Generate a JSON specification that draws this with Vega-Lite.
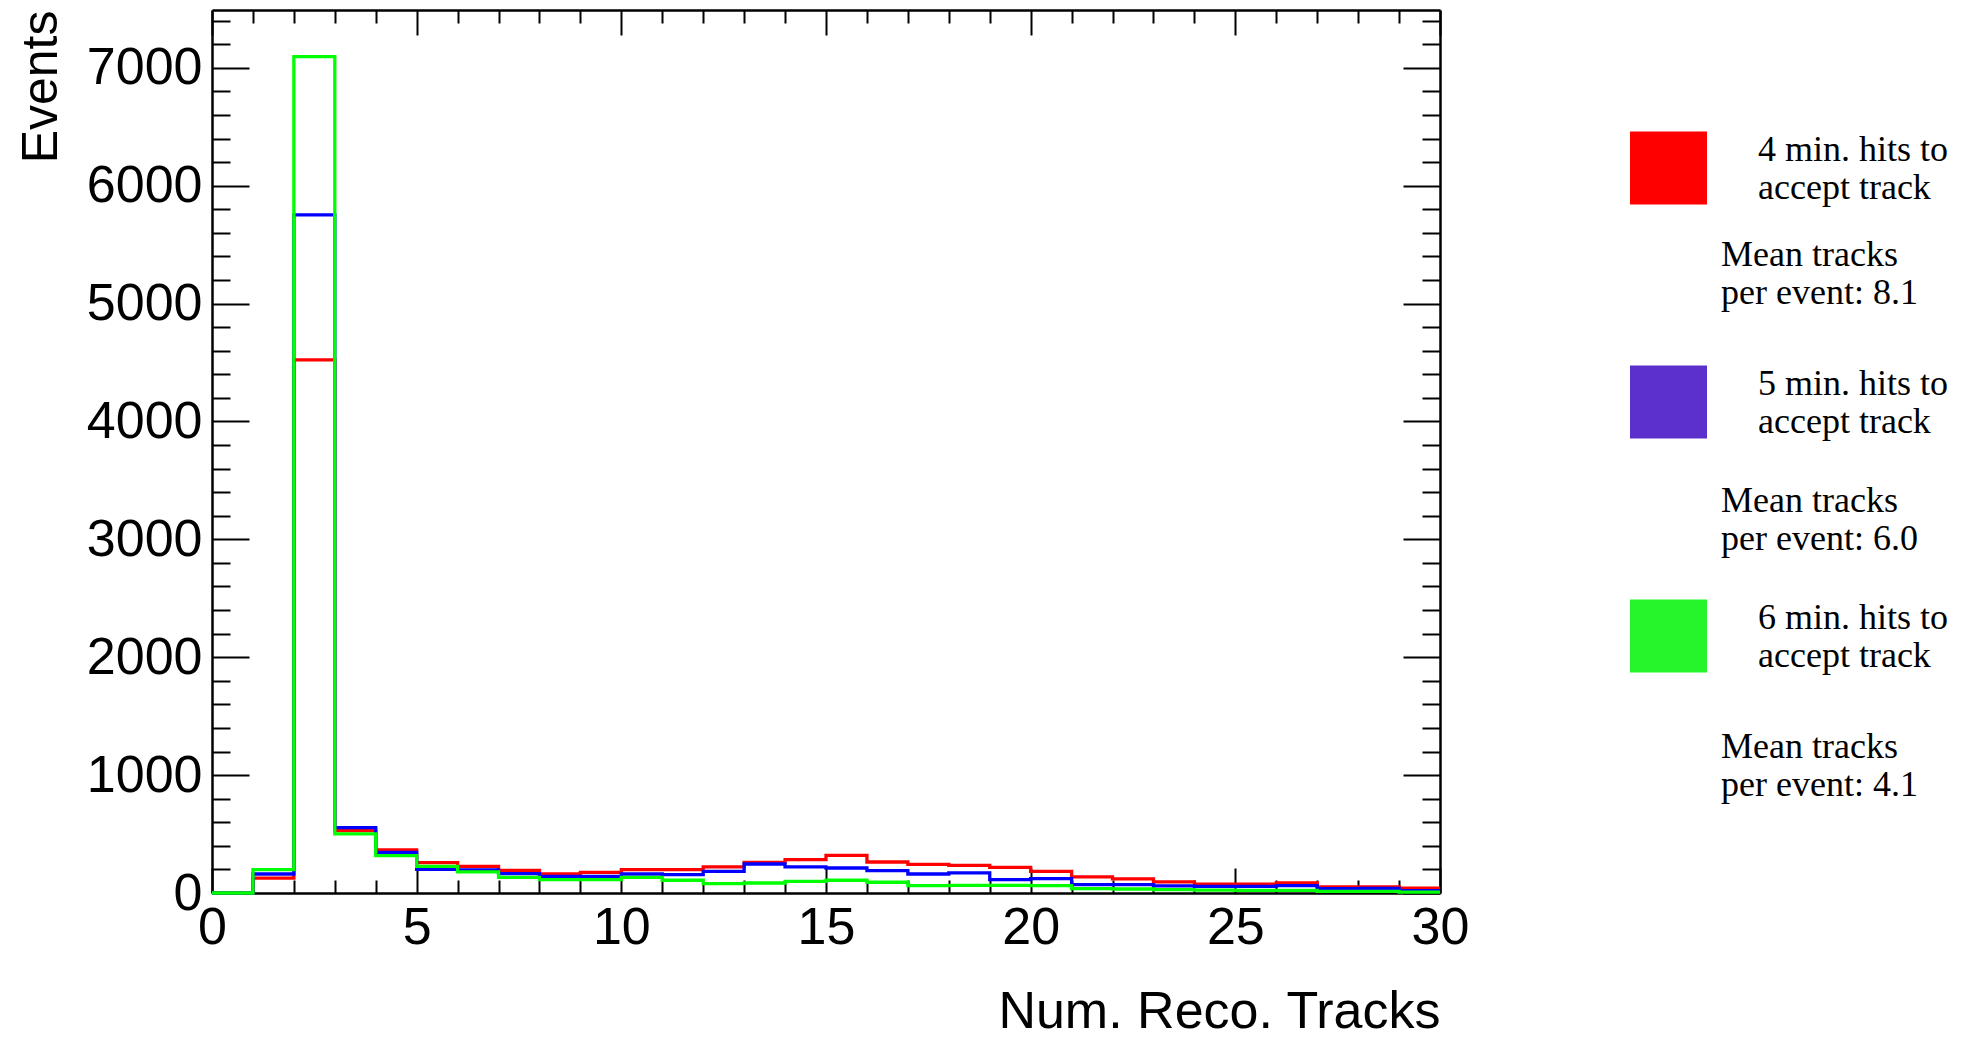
{
  "$schema": "https://vega.github.io/schema/vega-lite/v6.json",
  "width": 1228,
  "height": 883,
  "autosize": {"type": "none"},
  "padding": {"left": 212, "top": 10, "right": 537, "bottom": 151},
  "background": "white",
  "config": {
    "view": {"stroke": null},
    "axis": {
      "grid": false,
      "domainColor": "#000000",
      "domainWidth": 2.5,
      "tickColor": "#000000",
      "tickWidth": 2,
      "labelColor": "#000000",
      "labelFont": "Liberation Sans",
      "labelFontSize": 52,
      "labelOverlap": false,
      "labelFlush": false,
      "titleColor": "#000000",
      "titleFont": "Liberation Sans",
      "titleFontWeight": "normal"
    }
  },
  "data": {
    "values": [
      {"hits": 4, "lo": 0, "hi": 1, "events": 0},
      {"hits": 4, "lo": 1, "hi": 2, "events": 127},
      {"hits": 4, "lo": 2, "hi": 3, "events": 4522},
      {"hits": 4, "lo": 3, "hi": 4, "events": 530},
      {"hits": 4, "lo": 4, "hi": 5, "events": 365},
      {"hits": 4, "lo": 5, "hi": 6, "events": 258},
      {"hits": 4, "lo": 6, "hi": 7, "events": 226},
      {"hits": 4, "lo": 7, "hi": 8, "events": 192},
      {"hits": 4, "lo": 8, "hi": 9, "events": 161},
      {"hits": 4, "lo": 9, "hi": 10, "events": 175},
      {"hits": 4, "lo": 10, "hi": 11, "events": 198},
      {"hits": 4, "lo": 11, "hi": 12, "events": 198},
      {"hits": 4, "lo": 12, "hi": 13, "events": 221},
      {"hits": 4, "lo": 13, "hi": 14, "events": 260},
      {"hits": 4, "lo": 14, "hi": 15, "events": 283},
      {"hits": 4, "lo": 15, "hi": 16, "events": 320},
      {"hits": 4, "lo": 16, "hi": 17, "events": 263},
      {"hits": 4, "lo": 17, "hi": 18, "events": 243},
      {"hits": 4, "lo": 18, "hi": 19, "events": 235},
      {"hits": 4, "lo": 19, "hi": 20, "events": 218},
      {"hits": 4, "lo": 20, "hi": 21, "events": 184},
      {"hits": 4, "lo": 21, "hi": 22, "events": 136},
      {"hits": 4, "lo": 22, "hi": 23, "events": 119},
      {"hits": 4, "lo": 23, "hi": 24, "events": 95},
      {"hits": 4, "lo": 24, "hi": 25, "events": 76},
      {"hits": 4, "lo": 25, "hi": 26, "events": 76},
      {"hits": 4, "lo": 26, "hi": 27, "events": 85},
      {"hits": 4, "lo": 27, "hi": 28, "events": 51},
      {"hits": 4, "lo": 28, "hi": 29, "events": 51},
      {"hits": 4, "lo": 29, "hi": 30, "events": 42},
      {"hits": 5, "lo": 0, "hi": 1, "events": 0},
      {"hits": 5, "lo": 1, "hi": 2, "events": 161},
      {"hits": 5, "lo": 2, "hi": 3, "events": 5753},
      {"hits": 5, "lo": 3, "hi": 4, "events": 555},
      {"hits": 5, "lo": 4, "hi": 5, "events": 345},
      {"hits": 5, "lo": 5, "hi": 6, "events": 200},
      {"hits": 5, "lo": 6, "hi": 7, "events": 195},
      {"hits": 5, "lo": 7, "hi": 8, "events": 164},
      {"hits": 5, "lo": 8, "hi": 9, "events": 141},
      {"hits": 5, "lo": 9, "hi": 10, "events": 141},
      {"hits": 5, "lo": 10, "hi": 11, "events": 161},
      {"hits": 5, "lo": 11, "hi": 12, "events": 156},
      {"hits": 5, "lo": 12, "hi": 13, "events": 184},
      {"hits": 5, "lo": 13, "hi": 14, "events": 246},
      {"hits": 5, "lo": 14, "hi": 15, "events": 221},
      {"hits": 5, "lo": 15, "hi": 16, "events": 212},
      {"hits": 5, "lo": 16, "hi": 17, "events": 190},
      {"hits": 5, "lo": 17, "hi": 18, "events": 161},
      {"hits": 5, "lo": 18, "hi": 19, "events": 170},
      {"hits": 5, "lo": 19, "hi": 20, "events": 113},
      {"hits": 5, "lo": 20, "hi": 21, "events": 122},
      {"hits": 5, "lo": 21, "hi": 22, "events": 71},
      {"hits": 5, "lo": 22, "hi": 23, "events": 71},
      {"hits": 5, "lo": 23, "hi": 24, "events": 60},
      {"hits": 5, "lo": 24, "hi": 25, "events": 57},
      {"hits": 5, "lo": 25, "hi": 26, "events": 57},
      {"hits": 5, "lo": 26, "hi": 27, "events": 62},
      {"hits": 5, "lo": 27, "hi": 28, "events": 37},
      {"hits": 5, "lo": 28, "hi": 29, "events": 40},
      {"hits": 5, "lo": 29, "hi": 30, "events": 20},
      {"hits": 6, "lo": 0, "hi": 1, "events": 0},
      {"hits": 6, "lo": 1, "hi": 2, "events": 198},
      {"hits": 6, "lo": 2, "hi": 3, "events": 7095},
      {"hits": 6, "lo": 3, "hi": 4, "events": 502},
      {"hits": 6, "lo": 4, "hi": 5, "events": 317},
      {"hits": 6, "lo": 5, "hi": 6, "events": 226},
      {"hits": 6, "lo": 6, "hi": 7, "events": 180},
      {"hits": 6, "lo": 7, "hi": 8, "events": 133},
      {"hits": 6, "lo": 8, "hi": 9, "events": 113},
      {"hits": 6, "lo": 9, "hi": 10, "events": 113},
      {"hits": 6, "lo": 10, "hi": 11, "events": 133},
      {"hits": 6, "lo": 11, "hi": 12, "events": 108},
      {"hits": 6, "lo": 12, "hi": 13, "events": 79},
      {"hits": 6, "lo": 13, "hi": 14, "events": 85},
      {"hits": 6, "lo": 14, "hi": 15, "events": 99},
      {"hits": 6, "lo": 15, "hi": 16, "events": 108},
      {"hits": 6, "lo": 16, "hi": 17, "events": 91},
      {"hits": 6, "lo": 17, "hi": 18, "events": 63},
      {"hits": 6, "lo": 18, "hi": 19, "events": 65},
      {"hits": 6, "lo": 19, "hi": 20, "events": 65},
      {"hits": 6, "lo": 20, "hi": 21, "events": 62},
      {"hits": 6, "lo": 21, "hi": 22, "events": 37},
      {"hits": 6, "lo": 22, "hi": 23, "events": 34},
      {"hits": 6, "lo": 23, "hi": 24, "events": 28},
      {"hits": 6, "lo": 24, "hi": 25, "events": 25},
      {"hits": 6, "lo": 25, "hi": 26, "events": 23},
      {"hits": 6, "lo": 26, "hi": 27, "events": 23},
      {"hits": 6, "lo": 27, "hi": 28, "events": 14},
      {"hits": 6, "lo": 28, "hi": 29, "events": 14},
      {"hits": 6, "lo": 29, "hi": 30, "events": 8}
    ]
  },
  "transform": [
    {
      "lookup": "hits",
      "from": {
        "data": {"values": [
          {"hits": 4, "mean": "8.1"},
          {"hits": 5, "mean": "6.0"},
          {"hits": 6, "mean": "4.1"}
        ]},
        "key": "hits",
        "fields": ["mean"]
      }
    },
    {"fold": ["lo", "hi"], "as": ["edge", "x"]}
  ],
  "encoding": {
    "color": {
      "field": "hits",
      "type": "ordinal",
      "scale": {"domain": [4, 5, 6], "range": ["#ff0000", "#0000ff", "#00ff00"]},
      "legend": {
        "orient": "none",
        "legendX": 1420,
        "legendY": 121.5,
        "title": null,
        "padding": 0,
        "symbolType": "M-1.055,-1H1.055V1H-1.055Z",
        "symbolSize": 5329,
        "symbolStrokeWidth": 0,
        "labelFont": "Liberation Serif",
        "labelFontSize": 36,
        "labelColor": "#000000",
        "labelLimit": 0,
        "labelOffset": 53,
        "rowPadding": 159,
        "labelExpr": "[datum.label + ' min. hits to', 'accept track']",
        "encode": {
          "symbols": {
            "update": {
              "fill": {"signal": "datum.value == 4 ? '#ff0000' : datum.value == 5 ? '#5c30cc' : '#27f52b'"},
              "stroke": {"value": "transparent"},
              "opacity": {"value": 1},
              "fillOpacity": {"value": 1}
            }
          },
          "labels": {
            "update": {"dy": {"value": -18}}
          }
        }
      }
    },
    "opacity": {
      "field": "mean",
      "type": "ordinal",
      "scale": {"domain": ["8.1", "6.0", "4.1"], "range": [1, 1]},
      "legend": {
        "orient": "none",
        "legendX": 1473,
        "legendY": 227,
        "title": null,
        "padding": 0,
        "symbolSize": 1,
        "symbolStrokeWidth": 0,
        "labelFont": "Liberation Serif",
        "labelFontSize": 36,
        "labelColor": "#000000",
        "labelLimit": 0,
        "labelOffset": 0,
        "rowPadding": 172,
        "labelExpr": "['Mean tracks', 'per event: ' + datum.label]",
        "encode": {
          "symbols": {
            "update": {
              "opacity": {"value": 0},
              "fill": {"value": "transparent"},
              "stroke": {"value": "transparent"}
            }
          }
        }
      }
    },
    "order": [
      {"field": "lo", "type": "quantitative"},
      {"field": "edge", "type": "nominal", "sort": "descending"}
    ]
  },
  "layer": [
    {
      "transform": [{"filter": "datum.hits === 4"}],
      "mark": {"type": "line", "strokeWidth": 3.3, "strokeJoin": "miter"},
      "encoding": {
        "x": {
          "field": "x",
          "type": "quantitative",
          "scale": {"domain": [0, 30], "nice": false, "zero": false},
          "axis": {
            "orient": "bottom",
            "values": [0, 1, 2, 3, 4, 5, 6, 7, 8, 9, 10, 11, 12, 13, 14, 15, 16, 17, 18, 19, 20, 21, 22, 23, 24, 25, 26, 27, 28, 29, 30],
            "format": "d",
            "tickSize": {"condition": {"test": "datum.value % 5 === 0", "value": -25}, "value": -13},
            "labelExpr": "datum.value % 5 === 0 ? datum.label : ''",
            "labelPadding": 34,
            "title": "Num. Reco. Tracks",
            "titleAnchor": "end",
            "titleFontSize": 52,
            "titlePadding": 21
          }
        },
        "y": {
          "field": "events",
          "type": "quantitative",
          "scale": {"domain": [0, 7490], "nice": false},
          "axis": {
            "orient": "left",
            "values": [0, 200, 400, 600, 800, 1000, 1200, 1400, 1600, 1800, 2000, 2200, 2400, 2600, 2800, 3000, 3200, 3400, 3600, 3800, 4000, 4200, 4400, 4600, 4800, 5000, 5200, 5400, 5600, 5800, 6000, 6200, 6400, 6600, 6800, 7000, 7200, 7400],
            "format": "d",
            "tickSize": {"condition": {"test": "datum.value % 1000 === 0", "value": -37}, "value": -18},
            "labelExpr": "datum.value % 1000 === 0 ? datum.label : ''",
            "labelPadding": 47,
            "title": "Events",
            "titleAnchor": "end",
            "titleFontSize": 50,
            "titlePadding": 20
          }
        }
      }
    },
    {
      "transform": [{"filter": "datum.hits === 5"}],
      "mark": {"type": "line", "strokeWidth": 3.3, "strokeJoin": "miter"},
      "encoding": {
        "x": {
          "field": "x",
          "type": "quantitative",
          "axis": {
            "orient": "top",
            "values": [0, 1, 2, 3, 4, 5, 6, 7, 8, 9, 10, 11, 12, 13, 14, 15, 16, 17, 18, 19, 20, 21, 22, 23, 24, 25, 26, 27, 28, 29, 30],
            "tickSize": {"condition": {"test": "datum.value % 5 === 0", "value": -25}, "value": -13},
            "labels": false,
            "title": null
          }
        },
        "y": {
          "field": "events",
          "type": "quantitative",
          "axis": {
            "orient": "right",
            "values": [0, 200, 400, 600, 800, 1000, 1200, 1400, 1600, 1800, 2000, 2200, 2400, 2600, 2800, 3000, 3200, 3400, 3600, 3800, 4000, 4200, 4400, 4600, 4800, 5000, 5200, 5400, 5600, 5800, 6000, 6200, 6400, 6600, 6800, 7000, 7200, 7400],
            "tickSize": {"condition": {"test": "datum.value % 1000 === 0", "value": -37}, "value": -18},
            "labels": false,
            "title": null
          }
        }
      }
    },
    {
      "transform": [{"filter": "datum.hits === 6"}],
      "mark": {"type": "line", "strokeWidth": 3.3, "strokeJoin": "miter"},
      "encoding": {
        "x": {"field": "x", "type": "quantitative", "axis": null},
        "y": {"field": "events", "type": "quantitative", "axis": null}
      }
    }
  ],
  "resolve": {"axis": {"x": "independent", "y": "independent"}}
}
